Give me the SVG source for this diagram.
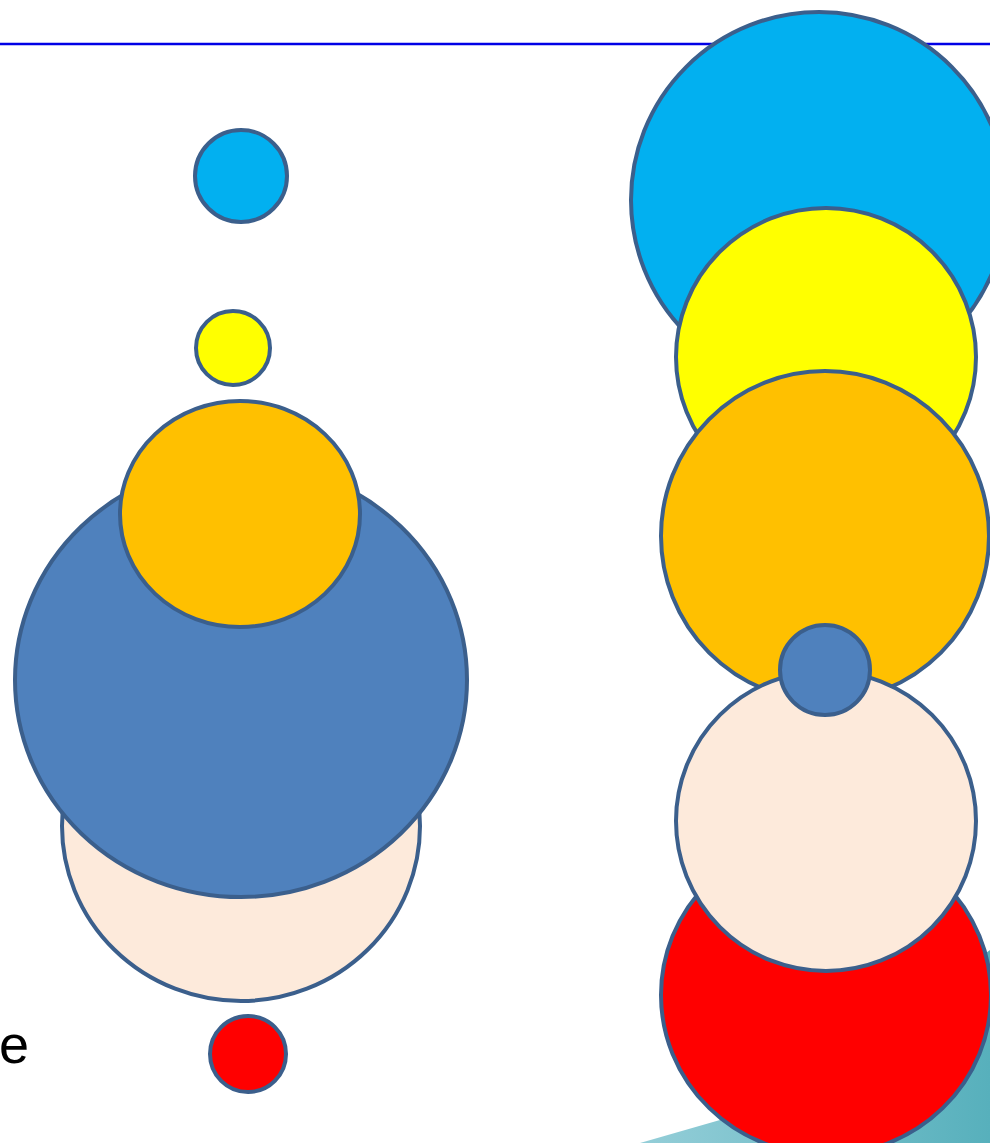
<svg xmlns="http://www.w3.org/2000/svg" width="990" height="1143" viewBox="0 0 990 1143">
<style>
.c{stroke:#3b5f8c;stroke-width:4}
.cyan{fill:#02b0f0}
.yel{fill:#ffff00}
.org{fill:#ffc000}
.blu{fill:#4f81bd}
.pch{fill:#fdeadb}
.red{fill:#ff0000}
</style>
<defs>
<linearGradient id="tg" x1="0" y1="0" x2="1" y2="0">
<stop offset="0" stop-color="#94ced8"/>
<stop offset="1" stop-color="#57b0bc"/>
</linearGradient>
</defs>
<rect width="990" height="1143" fill="#fff"/>
<line x1="0" y1="44" x2="990" y2="44" stroke="#0000e6" stroke-width="2.5"/>
<path d="M640 1143 L720 1120 L800 1090 L990 950 L990 1143 Z" fill="url(#tg)"/>
<text x="-1" y="1063" font-family="Liberation Sans, Arial, sans-serif" font-size="54" fill="#000">e</text>
<g id="left">
<circle id="l-cyan" class="c cyan" cx="241" cy="176" r="46"/>
<circle id="l-yel" class="c yel" cx="233" cy="348" r="37"/>
<ellipse id="l-pch" class="c pch" cx="241" cy="826" rx="179" ry="175"/>
<ellipse id="l-blu" class="c blu" cx="241" cy="680" rx="226" ry="217"/>
<ellipse id="l-org" class="c org" cx="240" cy="514" rx="120" ry="113"/>
<circle id="l-red" class="c red" cx="248" cy="1054" r="38"/>
</g>
<g id="right">
<circle id="r-cyan" class="c cyan" cx="819" cy="200" r="188"/>
<ellipse id="r-yel" class="c yel" cx="826" cy="357" rx="150" ry="149"/>
<ellipse id="r-org" class="c org" cx="825" cy="536" rx="164" ry="165"/>
<ellipse id="r-red" class="c red" cx="826" cy="995" rx="165" ry="160"/>
<ellipse id="r-pch" class="c pch" cx="826" cy="821" rx="150" ry="150"/>
<circle id="r-blu" class="c blu" cx="825" cy="670" r="45"/>
</g>
<g id="connectors"/>
</svg>
